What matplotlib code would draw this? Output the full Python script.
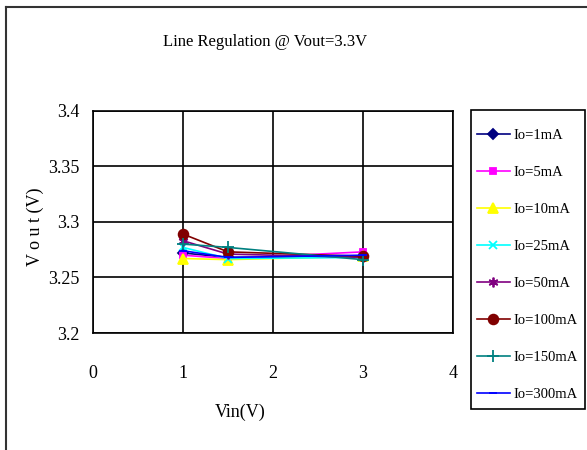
import matplotlib
matplotlib.use("Agg")
import matplotlib.pyplot as plt
from matplotlib.lines import Line2D
from matplotlib.patches import Rectangle

plt.rcParams['font.family'] = ['Liberation Serif', 'DejaVu Serif']

# input voltage points
vin = [1, 1.5, 3]

# output voltage per load current
labels = ["Io=1mA", "Io=5mA", "Io=10mA", "Io=25mA",
          "Io=50mA", "Io=100mA", "Io=150mA", "Io=300mA"]
vout_1ma = [3.272, 3.268, 3.269]
vout_5ma = [3.270, 3.267, 3.273]
vout_10ma = [3.267, 3.266, 3.269]
vout_25ma = [3.277, 3.267, 3.268]
vout_50ma = [3.283, 3.271, 3.268]
vout_100ma = [3.289, 3.273, 3.269]
vout_150ma = [3.280, 3.277, 3.266]
vout_300ma = [3.274, 3.268, 3.270]
series = [vout_1ma, vout_5ma, vout_10ma, vout_25ma,
          vout_50ma, vout_100ma, vout_150ma, vout_300ma]

colors = ["#000080", "#FF00FF", "#FFFF00", "#00FFFF",
          "#800080", "#800000", "#008080", "#0000FF"]
markers = ["D", "s", "^", "x", (6, 2, 0), "o", "+", "_"]
msizes = [5, 5, 7, 6, 7, 7, 9, 6]

W, H = 587, 450
fig = plt.figure(figsize=(W / 100, H / 100), dpi=100)
ax = fig.add_axes([93 / W, 1 - 333 / H, 360 / W, 222.3 / H])

for vals, lab, c, m, ms in zip(series, labels, colors, markers, msizes):
    ax.plot(vin, vals, color=c, marker=m, markersize=ms, linewidth=1.2,
            markeredgewidth=1.3, label=lab)

ax.set_xlim(0, 4)
ax.set_ylim(3.2, 3.4)
ax.set_xticks([0, 1, 2, 3, 4])
ax.set_yticks([3.2, 3.25, 3.3, 3.35, 3.4])
ax.set_yticklabels(["3.2", "3.25", "3.3", "3.35", "3.4"])
ax.grid(True, color="black", linewidth=1.2)
ax.set_axisbelow(True)
ax.tick_params(length=0, labelsize=13)
ax.tick_params(axis="y", pad=9.5)
ax.tick_params(axis="x", pad=23)
for s in ax.spines.values():
    s.set_color("black")
    s.set_linewidth(1.2)

ax.set_xlabel("Vin(V)", fontsize=13)
ax.xaxis.set_label_coords((240 - 93) / 360, (333 - 412) / 222.3)
ax.xaxis.label.set_va("center")
ax.set_ylabel("V o u t (V)", fontsize=13)
ax.yaxis.set_label_coords((35 - 93) / 360, (333 - 227) / 222.3)
ax.yaxis.label.set_va("center")
fig.text(265 / W, 1 - 42 / H, "Line Regulation @ Vout=3.3V",
         ha="center", va="center", fontsize=12)

# legend frame drawn separately so the rows can be spaced like the original
fig.add_artist(Rectangle((471 / W, 1 - 409 / H), 114 / W, 299 / H,
                         transform=fig.transFigure, facecolor="white",
                         edgecolor="black", linewidth=1.2, zorder=1))
leg = fig.legend(loc="upper left", bbox_to_anchor=(471 / W, 1 - 123 / H),
                 fontsize=10.5, labelspacing=1.63, handlelength=2.25,
                 handletextpad=0.28, borderpad=0.4, borderaxespad=0,
                 frameon=False)
leg.set_zorder(2)

# outer chart frame
fig.add_artist(Line2D([6 / W, 6 / W], [0, 1 - 7 / H], color="#333333",
                      linewidth=1.5, transform=fig.transFigure))
fig.add_artist(Line2D([6 / W, 1], [1 - 7 / H, 1 - 7 / H], color="#333333",
                      linewidth=1.5, transform=fig.transFigure))

fig.savefig("out.png", dpi=100)
